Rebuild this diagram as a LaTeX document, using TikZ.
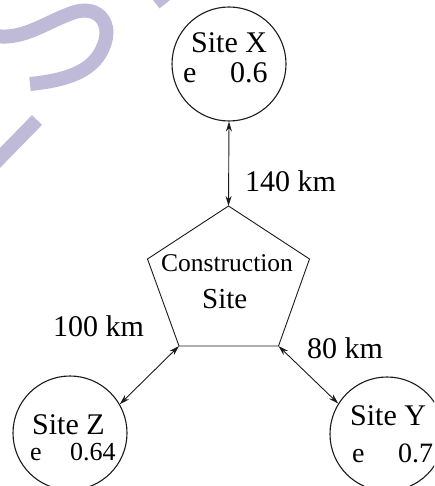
\documentclass[tikz,border=0pt]{standalone}
\usepackage{fontspec}
\setmainfont{Liberation Serif}
\usetikzlibrary{arrows.meta}
\definecolor{wmark}{HTML}{BEBAD8}
\definecolor{ink}{HTML}{1A1A1A}
\tikzset{
  site/.style={circle,draw=ink,line width=1.1pt,minimum size=114pt,inner sep=0pt},
  lbl/.style={anchor=base west,inner sep=0pt,text=black},
  link/.style={draw=ink,line width=0.9pt,{Stealth[length=10pt,width=6pt]}-{Stealth[length=10pt,width=6pt]}},
  pent/.style={draw=ink,line width=0.9pt,line join=miter},
  wstroke/.style={draw=wmark,line width=14pt}
}
\newcommand{\fs}[1]{\fontsize{#1}{#1}\selectfont}
\begin{document}
\begin{tikzpicture}[x=1pt,y=-1pt]
\useasboundingbox (0,0) rectangle (434,486);
\clip (0,0) rectangle (434,486);
% watermark strokes
\draw[wstroke,line cap=butt] (-5,36) .. controls (25,40) and (45,22) .. (75,12)
  .. controls (100,5) and (112,25) .. (104,45)
  .. controls (95,70) and (70,80) .. (30,84);
\draw[wstroke,line cap=butt] (37,120) -- (-5,163);
\draw[wstroke,line cap=butt] (154,-10) -- (165,4);
% sites
\node[site] (sx) at (229,64) {};
\node[site] (sz) at (70,433) {};
\node[site] (sy) at (387,434) {};
% construction site pentagon
\coordinate (pt) at (228.5,206);
\coordinate (pl) at (147.5,259);
\coordinate (pr) at (309.5,259);
\coordinate (pbl) at (179,346);
\coordinate (pbr) at (278.5,346);
\draw[pent] (pt) -- (pr) -- (pbr) -- (pbl) -- (pl) -- cycle;
\node[lbl] (c1) at (161,271) {\fs{25.5}Construction};
\node[lbl] (c2) at (202,308) {\fs{29}Site};
% texts in sites
\node[lbl] (x1) at (191,53) {\fs{30}Site X};
\node[lbl] (x2) at (183,83) {\fs{30}e};
\node[lbl] (x3) at (230,83) {\fs{30}0.6};
\node[lbl] (z1) at (32,434) {\fs{30}Site Z};
\node[lbl] (z2) at (30,460) {\fs{26}e};
\node[lbl] (z3) at (70,460) {\fs{26}0.64};
\node[lbl] (y1) at (350,425) {\fs{30}Site Y};
\node[lbl] (y2) at (352,462) {\fs{28}e};
\node[lbl] (y3) at (398,462) {\fs{28}0.7};
% distance labels
\node[lbl] (d1) at (245,191) {\fs{30}140 km};
\node[lbl] (d2) at (53,336) {\fs{30}100 km};
\node[lbl] (d3) at (307,358) {\fs{30}80 km};
% connectors
\draw[link] (sx.south) -- (pt);
\draw[link] (pbl) -- (sz.30);
\draw[link] (pbr) -- (sy.148);
\end{tikzpicture}
\end{document}
